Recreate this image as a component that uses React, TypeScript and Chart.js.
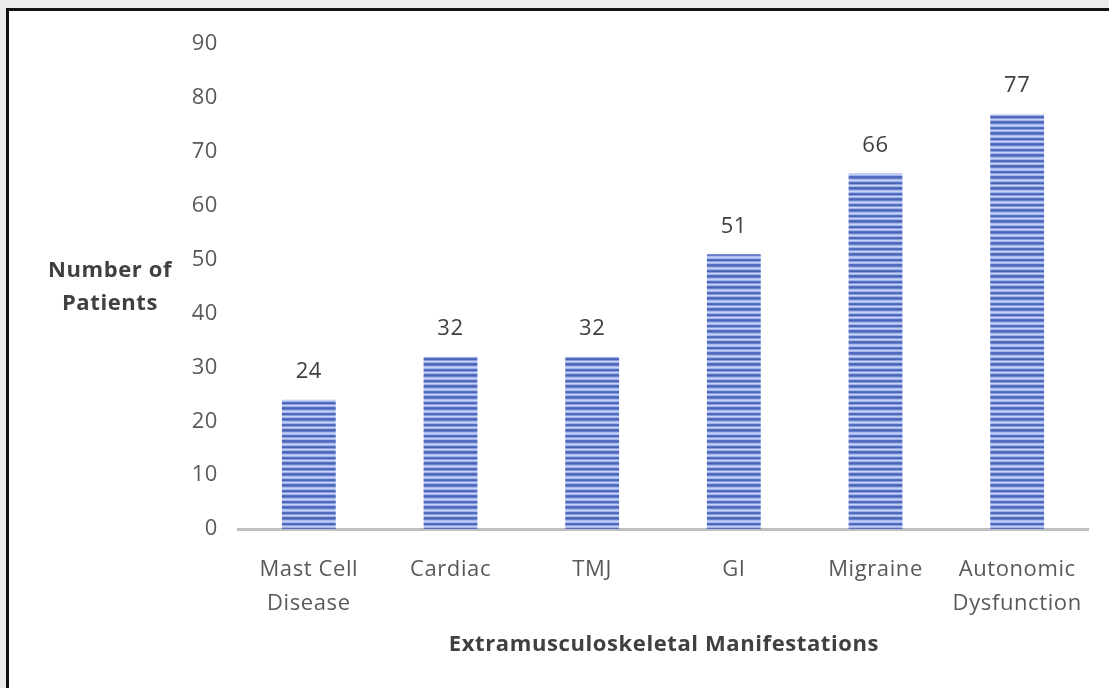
import React, { useEffect, useRef } from "react";
import { Chart, registerables } from "chart.js";

Chart.register(...registerables);

const categories: string[][] = [
  ["Mast Cell", "Disease"],
  ["Cardiac"],
  ["TMJ"],
  ["GI"],
  ["Migraine"],
  ["Autonomic", "Dysfunction"],
];
const patientCounts: number[] = [24, 32, 32, 51, 66, 77];
const yTickValues: number[] = [0, 10, 20, 30, 40, 50, 60, 70, 80, 90];

const yTitleLines = ["Number of", "Patients"];
const xTitle = "Extramusculoskeletal Manifestations";

const FONT = "'Open Sans', 'Liberation Sans', sans-serif";

// Horizontal stripe fill used on every bar
function makeStripePattern(): CanvasPattern | string {
  const c = document.createElement("canvas");
  c.width = 4;
  c.height = 11;
  const g = c.getContext("2d");
  if (!g) return "#7d92d8";
  const rows = [
    "#5570c2",
    "#4a64b6",
    "#6880cc",
    "#a8b8ec",
    "#c6d2f8",
    "#a2b3ea",
    "#5570c2",
    "#4a64b6",
    "#8a9fe0",
    "#c6d2f8",
    "#a2b3ea",
  ];
  rows.forEach((col, i) => {
    g.fillStyle = col;
    g.fillRect(0, i, 4, 1);
  });
  const p = g.createPattern(c, "repeat");
  return p || "#7d92d8";
}

// Slightly loose letter spacing for all chart text
const spacing = {
  id: "spacing",
  beforeDraw(chart: Chart) {
    (chart.ctx as any).letterSpacing = "0.6px";
  },
};

const valueLabels = {
  id: "valueLabels",
  afterDatasetsDraw(chart: Chart) {
    const ctx = chart.ctx;
    const meta = chart.getDatasetMeta(0);
    ctx.save();
    ctx.fillStyle = "#404040";
    ctx.font = `22px ${FONT}`;
    ctx.textAlign = "center";
    ctx.textBaseline = "middle";
    meta.data.forEach((el: any, i: number) => {
      ctx.fillText(String(patientCounts[i]), el.x, el.y - 28);
    });
    ctx.restore();
  },
};

const axisTitles = {
  id: "axisTitles",
  afterDraw(chart: Chart) {
    const ctx = chart.ctx;
    const area = chart.chartArea;
    ctx.save();
    ctx.fillStyle = "#404040";
    ctx.font = `bold 22px ${FONT}`;
    ctx.textAlign = "center";
    ctx.textBaseline = "middle";
    ctx.fillText(yTitleLines[0], 101, 260);
    ctx.fillText(yTitleLines[1], 101, 293);
    ctx.fillText(xTitle, (area.left + area.right) / 2 + 1, 634);
    ctx.restore();
  },
};

export default function App() {
  const ref = useRef<HTMLCanvasElement | null>(null);

  useEffect(() => {
    if (!ref.current) return;
    const stripes = makeStripePattern();
    const chart = new Chart(ref.current, {
      type: "bar",
      data: {
        labels: categories,
        datasets: [
          {
            data: patientCounts,
            backgroundColor: stripes as any,
            borderWidth: 0,
            categoryPercentage: 1,
            barPercentage: 0.38,
          },
        ],
      },
      options: {
        responsive: false,
        animation: false,
        layout: { padding: { top: 33, right: 21, bottom: 0, left: 0 } },
        plugins: {
          legend: { display: false },
          tooltip: { enabled: false },
          title: { display: false },
        },
        scales: {
          x: {
            grid: { display: false, drawTicks: false },
            border: { display: true, color: "#bfbfbf", width: 3 },
            ticks: {
              color: "#595959",
              font: { family: FONT, size: 22, lineHeight: 1.55 },
              padding: 24,
              maxRotation: 0,
              autoSkip: false,
            },
            afterFit(scale: any) {
              scale.height = 159;
            },
          },
          y: {
            min: 0,
            max: 90,
            afterBuildTicks(scale: any) {
              scale.ticks = yTickValues.map((v) => ({ value: v }));
            },
            grid: { display: false, drawTicks: false },
            border: { display: false },
            ticks: {
              color: "#595959",
              font: { family: FONT, size: 22 },
              padding: 20,
            },
            afterFit(scale: any) {
              scale.width = 229;
            },
          },
        },
      },
      plugins: [spacing, valueLabels, axisTitles],
    });
    return () => chart.destroy();
  }, []);

  return (
    <div
      style={{
        position: "fixed",
        left: 0,
        top: 0,
        width: 1109,
        height: 688,
        background: "#ebebeb",
        overflow: "hidden",
      }}
    >
      <div
        style={{
          position: "absolute",
          left: 6,
          top: 8,
          width: 1103,
          height: 680,
          background: "#ffffff",
          borderLeft: "3px solid #111111",
          borderTop: "3px solid #111111",
        }}
      >
        <canvas ref={ref} width={1100} height={677} style={{ display: "block" }} />
      </div>
    </div>
  );
}
